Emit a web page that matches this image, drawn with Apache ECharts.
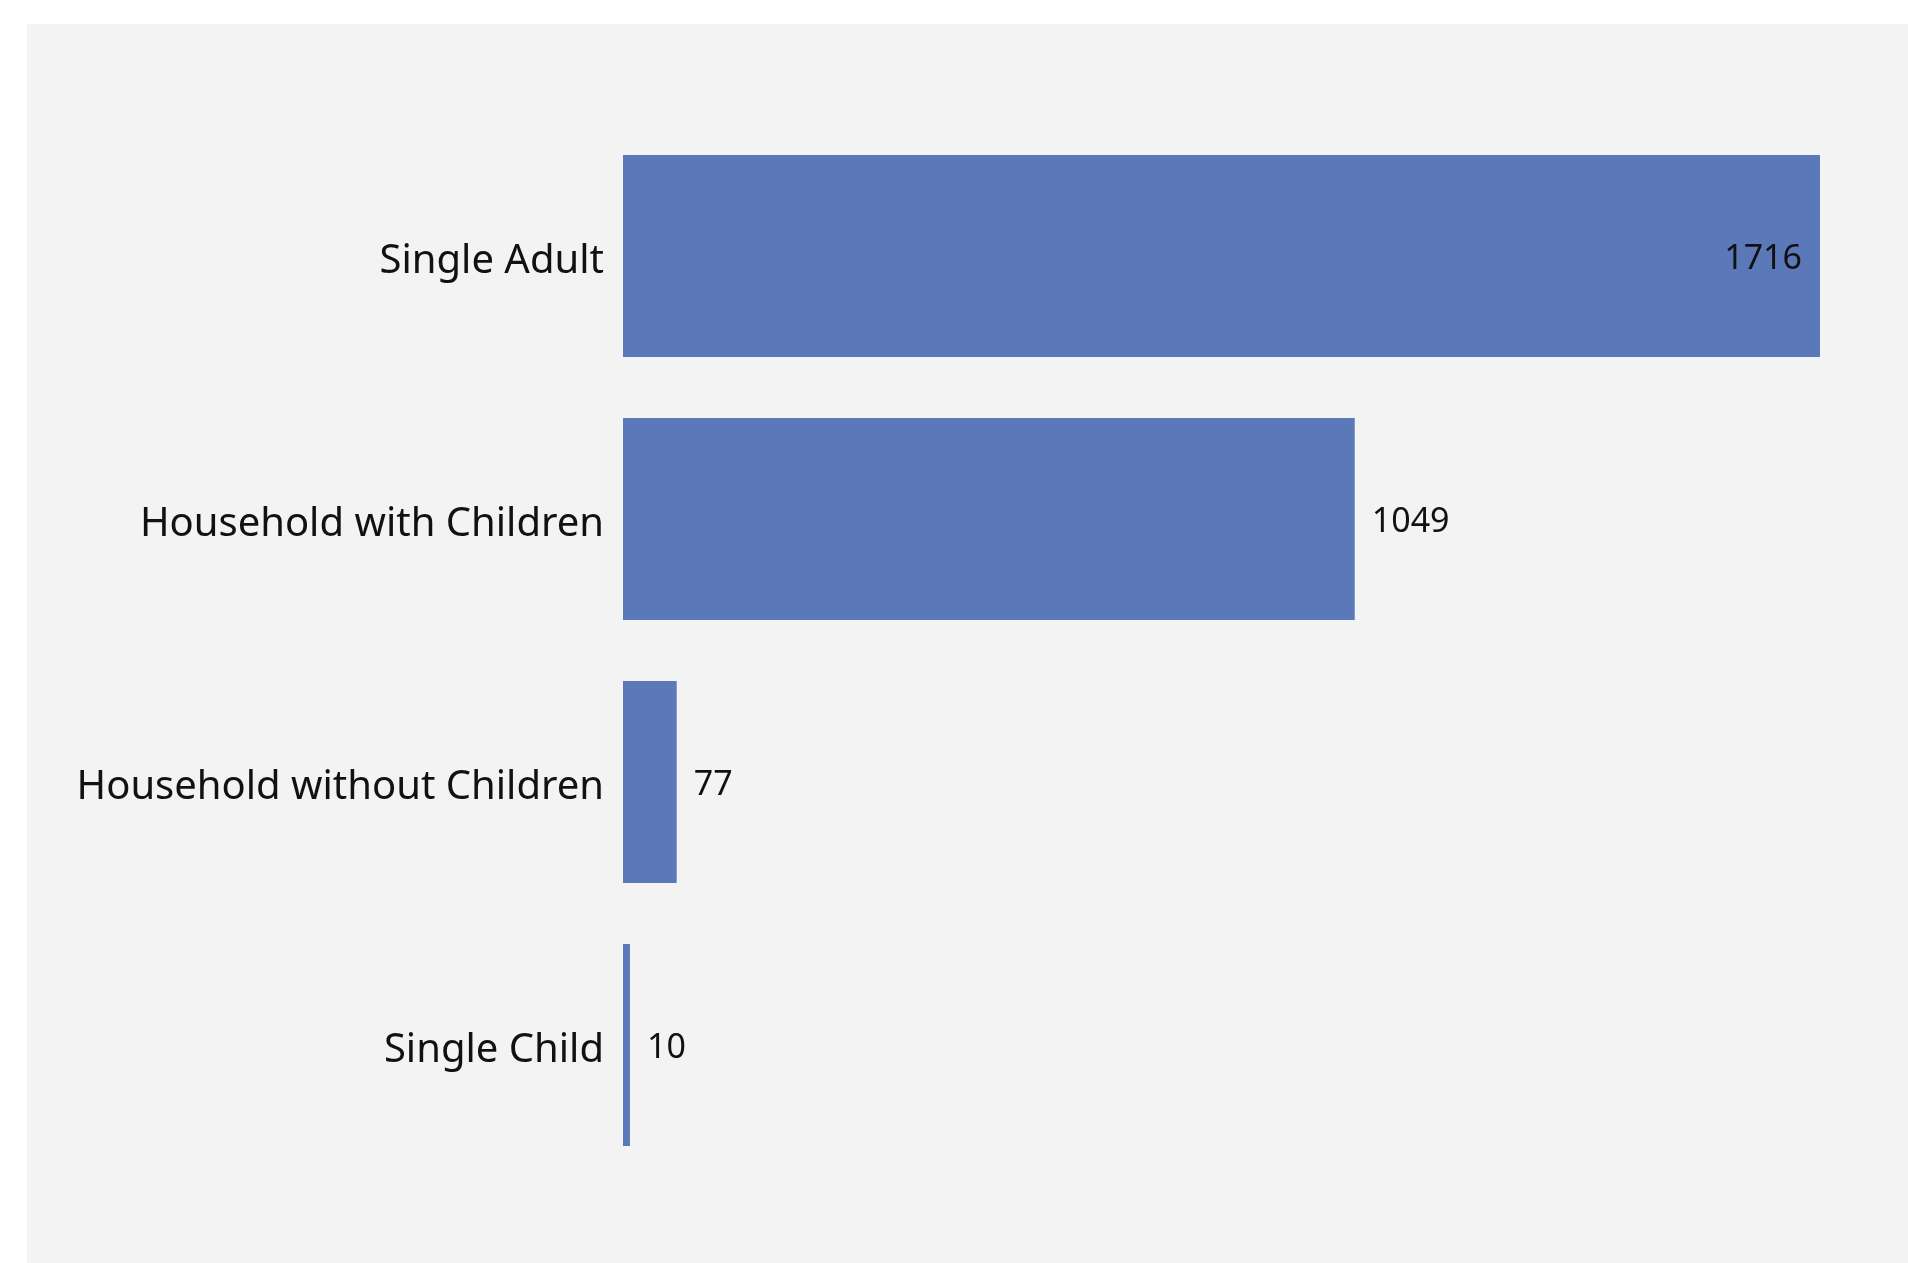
<!DOCTYPE html>
<html>
<head>
<meta charset="utf-8">
<script src="https://cdn.jsdelivr.net/npm/echarts@6/dist/echarts.min.js"></script>
<style>
html,body{margin:0;padding:0;background:#ffffff;width:1908px;height:1263px;overflow:hidden;}
#chart{position:absolute;left:27px;top:24px;width:1881px;height:1239px;}
</style>
</head>
<body>
<div id="chart"></div>
<script>
const categories = ["Single Adult", "Household with Children", "Household without Children", "Single Child"];
const values = [1716, 1049, 77, 10];

const chart = echarts.init(document.getElementById('chart'));
const font = '"Noto Sans", "Open Sans", sans-serif';
chart.setOption({
  backgroundColor: '#f3f3f3',
  animation: false,
  grid: {left: 596, right: 88, top: 100.5, height: 1052, containLabel: false},
  xAxis: {
    type: 'value', min: 0, max: 1716, show: false
  },
  yAxis: {
    type: 'category', data: categories, inverse: true,
    axisLine: {show: false}, axisTick: {show: false}, splitLine: {show: false},
    axisLabel: {
      color: '#111', fontFamily: font, fontSize: 40, margin: 19,
      formatter: v => '{a|' + v + '}',
      rich: {a: {color: '#111', fontFamily: font, fontSize: 40, padding: [12, 0, 0, 0]}}
    }
  },
  series: [{
    type: 'bar',
    barCategoryGap: '23.2%',
    itemStyle: {color: '#5b79b9'},
    label: {
      show: true, position: 'right', distance: 17, offset: [0, 3],
      color: '#111', fontFamily: font, fontSize: 34
    },
    data: values.map((v, i) => i === 0
      ? {value: v, label: {position: 'insideRight', distance: 18}}
      : v)
  }]
});
</script>
</body>
</html>
